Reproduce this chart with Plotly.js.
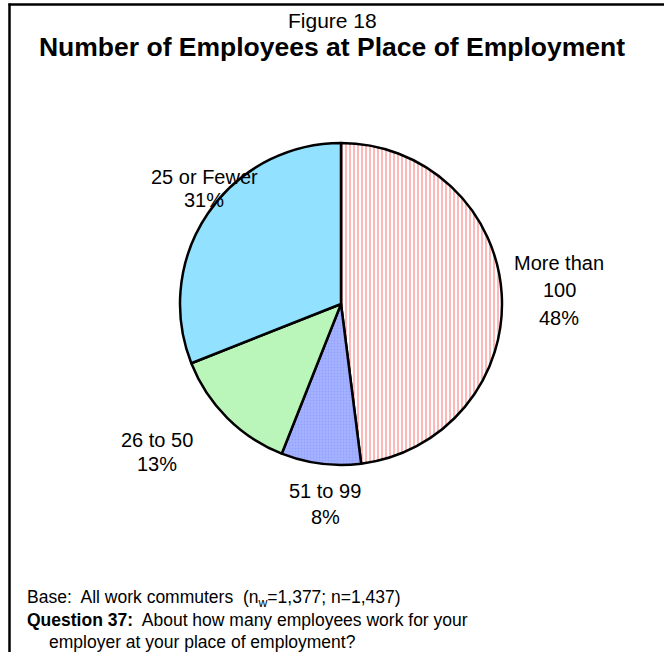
<!DOCTYPE html>
<html>
<head>
<meta charset="utf-8">
<script src="https://cdn.plot.ly/plotly-3.0.1.min.js"></script>
<style>
  html, body { margin: 0; padding: 0; background: #fff; }
  #chart { width: 664px; height: 652px; }
</style>
</head>
<body>
<div id="chart"></div>
<script>
// ---- data ----
const categories = ["More than 100", "51 to 99", "26 to 50", "25 or Fewer"];
const labelLines = [["More than", "100"], ["51 to 99"], ["26 to 50"], ["25 or Fewer"]];
const values = [48, 8, 13, 31];
const figureNumber = "Figure 18";
const chartTitle = "Number of Employees at Place of Employment";
const baseNote = "Base:  All work commuters  (n<sub>w</sub>=1,377; n=1,437)";
const questionLabel = "Question 37:";
const questionText = "About how many employees work for your";
const questionText2 = "employer at your place of employment?";

// ---- styles / layout ----
const W = 664, H = 652;
const px = x => x / W;
const py = y => 1 - y / H;
const patterns = [
  { shape: "|", fgcolor: "#FF7F7F", bgcolor: "#FFFFFF", size: 4, solidity: 0.28 },
  { shape: ".", fgcolor: "#93A3FF", bgcolor: "#A6B3FF", size: 3, solidity: 0.3 },
  { shape: ".", fgcolor: "#8EEB8E", bgcolor: "#DCFFDC", size: 2, solidity: 0.5 },
  { shape: "-", fgcolor: "#80DAFF", bgcolor: "#A3E8FF", size: 2, solidity: 0.5 }
];
// label line positions (x center, y centers of each line)
const labelPos = [
  { x: 559, ys: [263, 290, 318] },
  { x: 325, ys: [491, 517] },
  { x: 157, ys: [440, 464] },
  { x: 204, ys: [177, 200] }
];
const font = "Liberation Sans, Arial, sans-serif";
const labelSize = 20;
const noteSize = 17.5;

const annotations = [];
labelLines.forEach((lines, i) => {
  const all = lines.concat([values[i] + "%"]);
  all.forEach((t, j) => {
    annotations.push({
      text: t, x: px(labelPos[i].x), y: py(labelPos[i].ys[j]),
      xref: "paper", yref: "paper", xanchor: "center", yanchor: "middle",
      showarrow: false, font: { family: font, size: labelSize, color: "#000" }
    });
  });
});

annotations.push({
  text: figureNumber, x: px(332), y: py(20), xref: "paper", yref: "paper",
  xanchor: "center", yanchor: "middle", showarrow: false,
  font: { family: font, size: 21, color: "#000" }
});
annotations.push({
  text: baseNote, x: px(25), y: py(598), xref: "paper", yref: "paper",
  xanchor: "left", yanchor: "middle", showarrow: false, align: "left",
  font: { family: font, size: noteSize, color: "#000" }
});
annotations.push({
  text: "<b>" + questionLabel + "</b>  " + questionText, x: px(25), y: py(620), xref: "paper", yref: "paper",
  xanchor: "left", yanchor: "middle", showarrow: false, align: "left",
  font: { family: font, size: noteSize, color: "#000" }
});
annotations.push({
  text: questionText2, x: px(47), y: py(642), xref: "paper", yref: "paper",
  xanchor: "left", yanchor: "middle", showarrow: false, align: "left",
  font: { family: font, size: noteSize, color: "#000" }
});

const trace = {
  type: "pie",
  labels: categories,
  values: values,
  sort: false,
  direction: "clockwise",
  rotation: 0,
  textinfo: "none",
  hoverinfo: "skip",
  showlegend: false,
  domain: { x: [px(180), px(502)], y: [py(465), py(143)] },
  marker: {
    colors: patterns.map(p => p.bgcolor),
    line: { color: "#000", width: 2.5 },
    pattern: {
      shape: patterns.map(p => p.shape),
      fgcolor: patterns.map(p => p.fgcolor),
      bgcolor: patterns.map(p => p.bgcolor),
      size: patterns.map(p => p.size),
      solidity: patterns.map(p => p.solidity),
      fillmode: "replace"
    }
  }
};

const layout = {
  width: W, height: H,
  margin: { l: 0, r: 0, t: 0, b: 0 },
  paper_bgcolor: "#fff",
  plot_bgcolor: "#fff",
  title: {
    text: "<b>" + chartTitle + "</b>",
    x: px(332), xanchor: "center", xref: "paper",
    y: py(47), yanchor: "middle", yref: "paper",
    font: { family: font, size: 26.5, color: "#000" }
  },
  annotations: annotations,
  shapes: [
    { type: "line", xref: "paper", yref: "paper", x0: px(9.5), x1: px(9.5), y0: py(3.5), y1: 0, line: { color: "#000", width: 2.5 } },
    { type: "line", xref: "paper", yref: "paper", x0: px(8.5), x1: 1, y0: py(4.5), y1: py(4.5), line: { color: "#000", width: 2.5 } }
  ]
};

Plotly.newPlot("chart", [trace], layout, { staticPlot: true, displayModeBar: false });
</script>
</body>
</html>
